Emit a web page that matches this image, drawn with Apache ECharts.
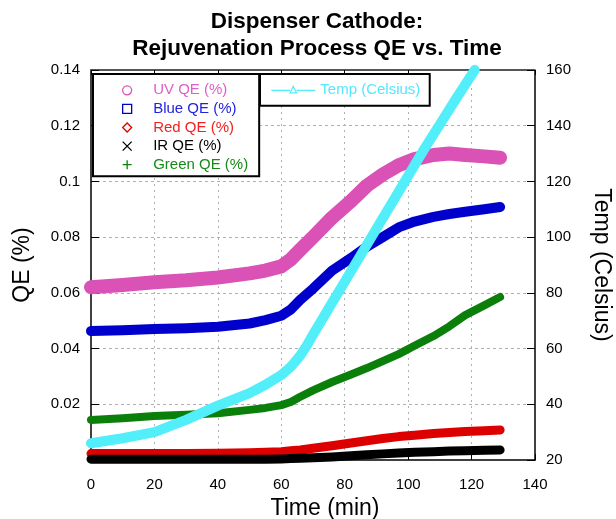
<!DOCTYPE html>
<html>
<head>
<meta charset="utf-8">
<script src="https://cdn.jsdelivr.net/npm/echarts@6/dist/echarts.min.js"></script>
<style>
  html, body { margin: 0; padding: 0; background: #fff; }
  #chart { width: 616px; height: 519px; }
</style>
</head>
<body>
<div id="chart"></div>
<script>
// sample times (min) for the QE curves
const time = [0, 10, 20, 30, 40, 50, 55, 60, 63, 66, 70, 76, 82, 87, 92, 97, 102, 108, 113, 118, 124, 129]
const uvQE = [0.062, 0.0628, 0.0638, 0.0645, 0.0655, 0.067, 0.068, 0.0695, 0.072, 0.0755, 0.080, 0.087, 0.093, 0.0985, 0.1025, 0.1058, 0.108, 0.1095, 0.110, 0.1095, 0.109, 0.1085]
const blueQE = [0.0463, 0.0466, 0.047, 0.0473, 0.0478, 0.049, 0.0502, 0.0518, 0.054, 0.0575, 0.0615, 0.068, 0.0725, 0.0766, 0.080, 0.0835, 0.0856, 0.0873, 0.0883, 0.0891, 0.090, 0.0908]
const redQE = [0.0023, 0.0023, 0.0023, 0.0023, 0.0024, 0.0026, 0.0028, 0.003, 0.0033, 0.0036, 0.0042, 0.0051, 0.0061, 0.0069, 0.0077, 0.0084, 0.0089, 0.0095, 0.0099, 0.0102, 0.0105, 0.0108]
const irQE = [0.0003, 0.0003, 0.0003, 0.0003, 0.0003, 0.0003, 0.0003, 0.0004, 0.0005, 0.0006, 0.0008, 0.0011, 0.0015, 0.0019, 0.0022, 0.0025, 0.0028, 0.003, 0.0032, 0.0033, 0.0035, 0.0036]
const greenQE = [0.0144, 0.015, 0.0158, 0.0162, 0.0168, 0.018, 0.0187, 0.0197, 0.0208, 0.0227, 0.025, 0.028, 0.0307, 0.033, 0.0355, 0.038, 0.041, 0.0445, 0.048, 0.052, 0.0555, 0.0585]

// temperature curve (right axis)
const tempTime = [0, 10, 20, 30, 40, 50, 55, 60, 63, 66, 68, 70, 72, 75, 80, 85, 90, 95, 100, 105, 110, 115, 121]
const tempC = [26, 27.8, 30, 34.4, 39.5, 44, 47, 50.5, 53.5, 57.5, 61, 65, 68.8, 74.5, 84, 93.5, 103, 112.5, 122, 131.5, 140.5, 149.5, 160]

const font = 'Liberation Sans, Arial, sans-serif'

const pairs = (xs, ys) => xs.map((x, i) => [x, ys[i]])

const qeSeries = [
  { name: 'UV QE (%)', data: uvQE, color: '#DA52B6', text: '#DF5FC6', width: 14, icon: 'path://M5,0A5,5,0,1,1,4.99,0Z' },
  { name: 'Blue QE (%)', data: blueQE, color: '#0000CD', text: '#2222E0', width: 10, icon: 'path://M0,0H10V10H0Z' },
  { name: 'Red QE (%)', data: redQE, color: '#DD0000', text: '#F52020', width: 9, icon: 'path://M5,0L10,5L5,10L0,5Z' },
  { name: 'IR QE (%)', data: irQE, color: '#000000', text: '#000000', width: 9, icon: 'path://M0,0L10,10M10,0L0,10' },
  { name: 'Green QE (%)', data: greenQE, color: '#0A800A', text: '#168A16', width: 8, icon: 'path://M5,0V10M0,5H10' }
]
const tempColor = '#52EEFA'

const chart = echarts.init(document.getElementById('chart'))

const axisBase = {
  type: 'value',
  axisLine: { show: true, onZero: false, lineStyle: { color: '#000', width: 1.5 } },
  axisTick: { show: true, inside: true, length: 8, lineStyle: { color: '#000' } },
  axisLabel: { fontSize: 15, color: '#000', fontFamily: font, margin: 11 },
  nameTextStyle: { fontSize: 23, color: '#000', fontFamily: font }
}

chart.setOption({
  animation: false,
  textStyle: { fontFamily: font },
  title: {
    text: 'Dispenser Cathode:\nRejuvenation Process QE vs. Time',
    left: 312,
    top: 3,
    textAlign: 'center',
    textStyle: { fontSize: 22.5, fontWeight: 'bold', lineHeight: 27, color: '#000', fontFamily: font }
  },
  grid: { left: 91, right: 81, top: 70, bottom: 59, outerBoundsMode: 'none', containLabel: false },
  legend: [
    {
      left: 93, top: 74, orient: 'vertical', selectedMode: false,
      padding: [8.8, 11, 4, 29], itemGap: 3.6, itemWidth: 42, itemHeight: 9,
      backgroundColor: '#fff', borderColor: '#000', borderWidth: 2,
      textStyle: { fontSize: 15, lineHeight: 15, fontFamily: font },
      data: qeSeries.map(s => ({
        name: s.name, icon: s.icon,
        itemStyle: { color: 'transparent', borderColor: s.color, borderWidth: 1.3 },
        textStyle: { color: s.text }
      }))
    },
    {
      left: 260, top: 74, orient: 'horizontal', selectedMode: false,
      padding: [8.2, 9.4, 8.5, 10.7], itemWidth: 44, itemHeight: 6.5,
      backgroundColor: '#fff', borderColor: '#000', borderWidth: 2,
      textStyle: { fontSize: 15, lineHeight: 15, fontFamily: font },
      data: [{
        name: 'Temp (Celsius)', icon: 'path://M0,4.5H18.7M25.3,4.5H44M18.7,7L22,0.5L25.3,7Z',
        itemStyle: { color: 'transparent', borderColor: tempColor, borderWidth: 1.2 },
        textStyle: { color: '#55E6FF' }
      }]
    }
  ],
  xAxis: [
    {
      ...axisBase, position: 'bottom', min: 0, max: 140, interval: 20,
      name: 'Time (min)', nameLocation: 'middle', nameGap: 35,
      nameTextStyle: { ...axisBase.nameTextStyle, padding: [0, 0, 0, 24] },
      axisTick: { show: true, inside: true, length: 6, lineStyle: { color: '#000' } },
      axisLabel: { fontSize: 15, color: '#000', fontFamily: font, margin: 17 },
      splitLine: { show: true, showMinLine: false, showMaxLine: false, lineStyle: { color: '#b0b0b0', type: [2, 4], width: 1 } }
    },
    {
      type: 'value', position: 'top', min: 0, max: 140, interval: 20,
      axisLine: { show: true, onZero: false, lineStyle: { color: '#555', width: 2, type: [3, 1] } },
      axisTick: { show: true, inside: true, length: 5, lineStyle: { color: '#000' } },
      axisLabel: { show: false },
      splitLine: { show: false }
    }
  ],
  yAxis: [
    {
      ...axisBase, position: 'left', min: 0, max: 0.14, interval: 0.02,
      name: 'QE (%)', nameLocation: 'middle', nameRotate: 90, nameGap: 57,
      axisLabel: { ...axisBase.axisLabel, formatter: v => v === 0 ? '' : String(+v.toFixed(2)) },
      splitLine: { show: true, showMinLine: false, showMaxLine: false, lineStyle: { color: '#b0b0b0', type: [3, 3], width: 1 } }
    },
    {
      ...axisBase, position: 'right', min: 20, max: 160, interval: 20,
      name: 'Temp (Celsius)', nameLocation: 'middle', nameRotate: -90, nameGap: 55,
      splitLine: { show: false }
    }
  ],
  series: [
    ...qeSeries.map(s => ({
      name: s.name, type: 'line', xAxisIndex: 0, yAxisIndex: 0,
      data: pairs(time, s.data), symbol: 'none', showSymbol: false,
      smooth: false, clip: false, color: s.color,
      lineStyle: { color: s.color, width: s.width, cap: 'round', join: 'round' }
    })),
    {
      name: 'Temp (Celsius)', type: 'line', xAxisIndex: 0, yAxisIndex: 1,
      data: pairs(tempTime, tempC), symbol: 'none', showSymbol: false,
      smooth: false, clip: false, color: tempColor,
      lineStyle: { color: tempColor, width: 10, cap: 'round', join: 'round' }
    }
  ]
})
</script>
</body>
</html>
